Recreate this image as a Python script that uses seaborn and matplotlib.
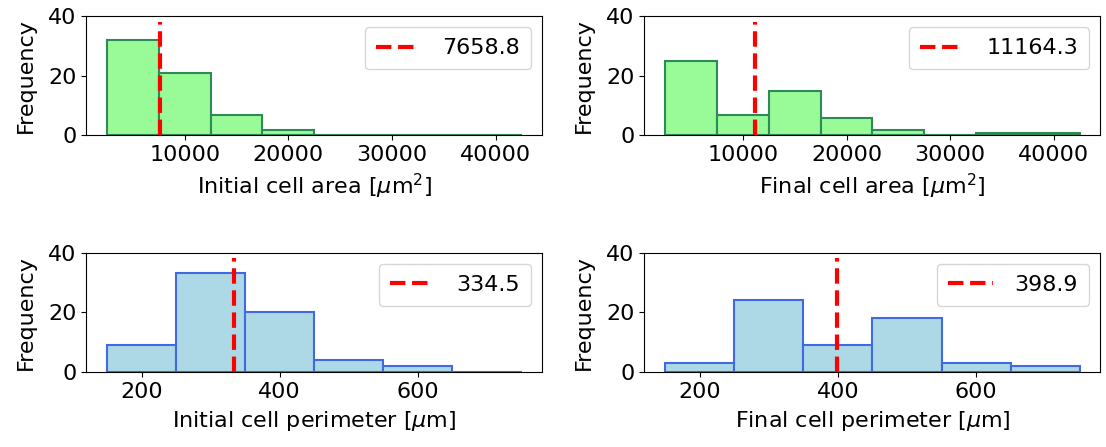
import numpy as np
import pandas as pd
import matplotlib
matplotlib.use("Agg")
import matplotlib.pyplot as plt
import seaborn as sns

# Data: histogram bin edges and counts
area_edges = [2500, 7500, 12500, 17500, 22500, 27500, 32500, 37500, 42500]
init_area_counts = [32, 21, 7, 2, 0, 0, 0, 0]
final_area_counts = [25, 7, 15, 6, 2, 0, 1, 1]
init_area_mean = 7658.8
final_area_mean = 11164.3

perim_edges = [150, 250, 350, 450, 550, 650, 750]
init_perim_counts = [9, 33, 20, 4, 2, 0]
final_perim_counts = [3, 24, 9, 18, 3, 2]
init_perim_mean = 334.5
final_perim_mean = 398.9

xlabels = ["Initial cell area [$\\mu$m$^2$]", "Final cell area [$\\mu$m$^2$]",
           "Initial cell perimeter [$\\mu$m]", "Final cell perimeter [$\\mu$m]"]

plt.rcParams["font.size"] = 16
plt.rcParams["font.family"] = ["DejaVu Sans"]

fig, axes = plt.subplots(2, 2, figsize=(11.06, 4.47), dpi=100)
fig.subplots_adjust(left=0.078, right=0.995, top=0.964, bottom=0.168,
                    wspace=0.224, hspace=0.98)

panels = [
    (axes[0, 0], area_edges, init_area_counts, init_area_mean, "palegreen", "seagreen", xlabels[0]),
    (axes[0, 1], area_edges, final_area_counts, final_area_mean, "palegreen", "seagreen", xlabels[1]),
    (axes[1, 0], perim_edges, init_perim_counts, init_perim_mean, "lightblue", "royalblue", xlabels[2]),
    (axes[1, 1], perim_edges, final_perim_counts, final_perim_mean, "lightblue", "royalblue", xlabels[3]),
]

for ax, edges, counts, mean, fc, ec, xl in panels:
    e = np.array(edges, dtype=float)
    df = pd.DataFrame({"value": (e[:-1] + e[1:]) / 2, "count": counts})
    sns.histplot(data=df, x="value", weights="count", bins=list(edges), ax=ax,
                 color=fc, edgecolor=ec, linewidth=1.5, alpha=1.0)
    ax.axvline(mean, ymax=0.95, color="red", linestyle="--", linewidth=3,
               label=f"{mean:.1f}")
    ax.set_ylim(0, 40)
    ax.set_yticks([0, 20, 40])
    ax.set_xlabel(xl, labelpad=5)
    ax.set_ylabel("Frequency", labelpad=9)
    ax.legend(loc="upper right", handletextpad=1.0, borderpad=0.5)

axes[0, 0].set_xticks([10000, 20000, 30000, 40000])
axes[0, 1].set_xticks([10000, 20000, 30000, 40000])
axes[1, 0].set_xticks([200, 400, 600])
axes[1, 1].set_xticks([200, 400, 600])

fig.savefig("out.png", dpi=100)
